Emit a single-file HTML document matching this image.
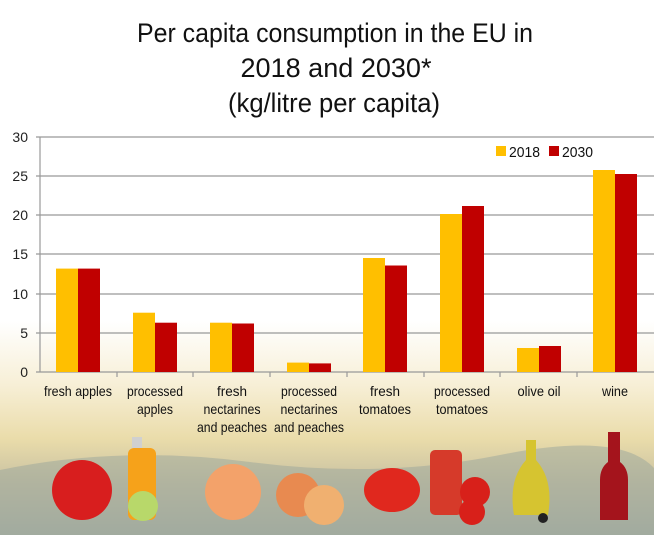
<!DOCTYPE html>
<html><head><meta charset="utf-8"><style>
body{margin:0;width:654px;height:535px;overflow:hidden;background:#fff}
svg{display:block}
text{font-family:"Liberation Sans Narrow","Liberation Sans",sans-serif}
</style></head><body>
<svg width="654" height="535" viewBox="0 0 654 535">
<defs>
<linearGradient id="bg" x1="0" y1="0" x2="0" y2="1">
<stop offset="0" stop-color="#fff"/>
<stop offset="0.6" stop-color="#fff"/>
<stop offset="0.72" stop-color="#f7efd6"/>
<stop offset="0.82" stop-color="#eadcaa"/>
<stop offset="0.9" stop-color="#c9c2a2"/>
<stop offset="1" stop-color="#a9b0a2"/>
</linearGradient>
</defs>
<rect width="654" height="535" fill="url(#bg)"/>
<path d="M0 470 Q120 445 250 462 T500 455 T654 468 V535 H0Z" fill="#9aa69c" opacity="0.5"/>
<g fill="#111" font-size="27" text-anchor="middle">
<text x="335" y="42" textLength="396" lengthAdjust="spacingAndGlyphs">Per capita consumption in the EU in</text>
<text x="336" y="77" textLength="191" lengthAdjust="spacingAndGlyphs">2018 and 2030*</text>
<text x="334" y="112" textLength="212" lengthAdjust="spacingAndGlyphs">(kg/litre per capita)</text>
</g>
<g stroke="#999" stroke-width="1.2">
<line x1="36" y1="137" x2="654" y2="137"/>
<line x1="36" y1="176" x2="654" y2="176"/>
<line x1="36" y1="215" x2="654" y2="215"/>
<line x1="36" y1="254" x2="654" y2="254"/>
<line x1="36" y1="294" x2="654" y2="294"/>
<line x1="36" y1="333" x2="654" y2="333"/>
<line x1="36" y1="372" x2="654" y2="372"/>
<line x1="40" y1="137" x2="40" y2="372"/>
<line x1="117" y1="372" x2="117" y2="377"/><line x1="193" y1="372" x2="193" y2="377"/>
<line x1="270" y1="372" x2="270" y2="377"/><line x1="347" y1="372" x2="347" y2="377"/>
<line x1="424" y1="372" x2="424" y2="377"/><line x1="500" y1="372" x2="500" y2="377"/>
<line x1="577" y1="372" x2="577" y2="377"/>
</g>
<g font-size="14" fill="#222" text-anchor="end">
<text x="28" y="142">30</text><text x="28" y="181">25</text><text x="28" y="220">20</text>
<text x="28" y="259">15</text><text x="28" y="299">10</text><text x="28" y="338">5</text><text x="28" y="377">0</text>
</g>
<g>
<rect x="56" y="268.6" width="22" height="103.4" fill="#ffbf00"/><rect x="78" y="268.6" width="22" height="103.4" fill="#c00000"/>
<rect x="133" y="312.7" width="22" height="59.3" fill="#ffbf00"/><rect x="155" y="322.7" width="22" height="49.3" fill="#c00000"/>
<rect x="210" y="322.7" width="22" height="49.3" fill="#ffbf00"/><rect x="232" y="323.5" width="22" height="48.5" fill="#c00000"/>
<rect x="287" y="362.6" width="22" height="9.4" fill="#ffbf00"/><rect x="309" y="363.4" width="22" height="8.6" fill="#c00000"/>
<rect x="363" y="258" width="22" height="114" fill="#ffbf00"/><rect x="385" y="265.5" width="22" height="106.5" fill="#c00000"/>
<rect x="440" y="214" width="22" height="158" fill="#ffbf00"/><rect x="462" y="206" width="22" height="166" fill="#c00000"/>
<rect x="517" y="348" width="22" height="24" fill="#ffbf00"/><rect x="539" y="346" width="22" height="26" fill="#c00000"/>
<rect x="593" y="170" width="22" height="202" fill="#ffbf00"/><rect x="615" y="174" width="22" height="198" fill="#c00000"/>
</g>
<rect x="496" y="146" width="10" height="10" fill="#ffbf00"/><text x="509" y="157" font-size="15" fill="#111" textLength="31" lengthAdjust="spacingAndGlyphs">2018</text>
<rect x="549" y="146" width="10" height="10" fill="#c00000"/><text x="562" y="157" font-size="15" fill="#111" textLength="31" lengthAdjust="spacingAndGlyphs">2030</text>
<g font-size="14" fill="#111" text-anchor="middle" lengthAdjust="spacingAndGlyphs">
<text x="78" y="396" textLength="68" lengthAdjust="spacingAndGlyphs">fresh apples</text>
<text x="155" y="396" textLength="56" lengthAdjust="spacingAndGlyphs">processed</text><text x="155" y="414" textLength="36" lengthAdjust="spacingAndGlyphs">apples</text>
<text x="232" y="396" textLength="30" lengthAdjust="spacingAndGlyphs">fresh</text><text x="232" y="414" textLength="57" lengthAdjust="spacingAndGlyphs">nectarines</text><text x="232" y="432" textLength="70" lengthAdjust="spacingAndGlyphs">and peaches</text>
<text x="309" y="396" textLength="56" lengthAdjust="spacingAndGlyphs">processed</text><text x="309" y="414" textLength="57" lengthAdjust="spacingAndGlyphs">nectarines</text><text x="309" y="432" textLength="70" lengthAdjust="spacingAndGlyphs">and peaches</text>
<text x="385" y="396" textLength="30" lengthAdjust="spacingAndGlyphs">fresh</text><text x="385" y="414" textLength="52" lengthAdjust="spacingAndGlyphs">tomatoes</text>
<text x="462" y="396" textLength="56" lengthAdjust="spacingAndGlyphs">processed</text><text x="462" y="414" textLength="52" lengthAdjust="spacingAndGlyphs">tomatoes</text>
<text x="539" y="396" textLength="43" lengthAdjust="spacingAndGlyphs">olive oil</text>
<text x="615" y="396" textLength="26" lengthAdjust="spacingAndGlyphs">wine</text>
</g>
<ellipse cx="82" cy="490" rx="30" ry="30" fill="#d81e1e"/>
<rect x="132" y="437" width="10" height="12" fill="#d0d0d0"/>
<rect x="128" y="448" width="28" height="72" rx="6" fill="#f6a21a"/>
<circle cx="143" cy="506" r="15" fill="#b8d86a"/>
<circle cx="233" cy="492" r="28" fill="#f3a26a"/>
<circle cx="298" cy="495" r="22" fill="#e88a50"/>
<circle cx="324" cy="505" r="20" fill="#f0b070"/>
<ellipse cx="392" cy="490" rx="28" ry="22" fill="#e0281e"/>
<rect x="430" y="450" width="32" height="65" rx="5" fill="#d63a2a"/>
<circle cx="475" cy="492" r="15" fill="#d8201a"/><circle cx="472" cy="512" r="13" fill="#d8201a"/>
<path d="M526 440 h10 v20 q18 20 12 55 h-34 q-6 -35 12 -55z" fill="#d6c430"/>
<circle cx="543" cy="518" r="5" fill="#222"/>
<path d="M608 432 h12 v30 q8 6 8 18 v40 h-28 v-40 q0 -12 8 -18z" fill="#a4141c"/>
</svg>
</body></html>
